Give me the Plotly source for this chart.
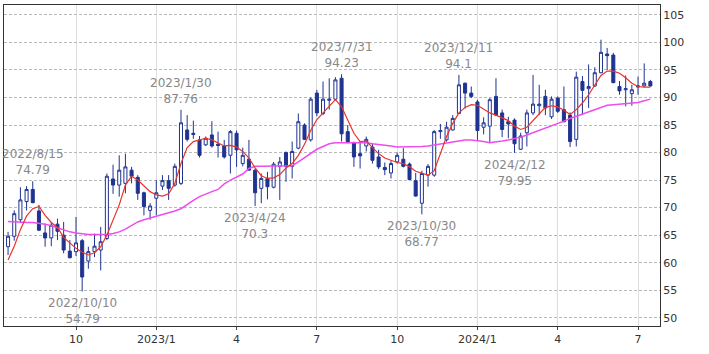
import plotly.graph_objects as go
import pandas as pd

# ---- data (weekly candles, first week 2022-07-18) ----
open_ = [62.9, 64.8, 67.8, 71.1, 73.3, 69.4, 65.4, 64.5, 67.0, 65.0,
         62.1, 62.0, 64.0, 60.3, 62.0, 62.3, 64.4, 75.2, 74.1, 74.4,
         76.8, 75.5, 72.7, 69.5, 71.7, 73.9, 74.9, 74.1, 74.4, 84.1,
         83.5, 82.3, 81.4, 83.2, 81.5, 81.2, 79.5, 83.5, 78.0, 78.8,
         76.8, 73.5, 75.3, 73.7, 77.5, 80.0, 77.5, 80.8, 85.0, 82.3,
         90.8, 87.1, 89.5, 89.7, 93.5, 83.8, 81.8, 79.8, 81.2, 81.0,
         79.2, 77.3, 76.3, 78.3, 78.8, 77.9, 74.9, 70.8, 75.9, 75.9,
         83.8, 82.3, 84.1, 87.1, 92.6, 90.8, 89.2, 84.6, 84.8, 90.2,
         87.2, 85.6, 85.9, 80.6, 83.6, 87.2, 88.5, 90.2, 86.5, 89.9,
         87.8, 86.8, 82.4, 92.9, 91.6, 92.1, 94.5, 97.9, 97.7, 92.0,
         91.4, 90.7, 91.9, 92.1, 92.9]
high = [65.6, 69.5, 73.7, 73.9, 74.79, 70.5, 67.1, 67.4, 68.0, 67.4,
        64.1, 68.3, 64.3, 62.9, 65.3, 66.5, 76.2, 77.8, 79.5, 79.8,
        77.4, 75.9, 72.9, 70.8, 75.0, 75.9, 75.9, 78.0, 87.76, 86.8,
        85.8, 83.0, 82.9, 85.7, 83.8, 82.3, 84.1, 84.0, 80.9, 82.3,
        77.1, 76.2, 76.5, 78.3, 79.2, 80.2, 82.0, 87.1, 85.3, 90.0,
        91.4, 92.9, 93.5, 93.7, 94.23, 85.0, 82.0, 82.0, 82.9, 81.7,
        80.5, 78.2, 78.6, 80.0, 80.8, 78.2, 76.3, 76.7, 77.9, 84.1,
        85.2, 85.6, 86.8, 94.1, 92.7, 92.0, 89.6, 86.4, 89.9, 93.5,
        87.8, 86.5, 86.2, 83.6, 87.8, 94.1, 92.3, 91.4, 90.2, 90.2,
        92.0, 87.3, 94.7, 93.9, 96.0, 95.5, 100.5, 99.0, 98.1, 93.0,
        94.0, 92.3, 93.8, 96.2, 93.2]
low = [61.4, 64.0, 67.2, 69.5, 70.8, 65.8, 62.9, 63.0, 64.1, 61.7,
       60.8, 61.2, 54.79, 58.9, 61.0, 58.6, 64.1, 72.5, 72.0, 72.6,
       74.4, 71.4, 68.6, 67.8, 68.6, 73.2, 71.4, 73.8, 74.1, 82.0,
       82.5, 79.1, 81.2, 80.9, 79.1, 78.9, 76.2, 77.4, 77.5, 76.8,
       70.3, 70.8, 71.5, 73.5, 71.4, 74.7, 75.3, 80.6, 82.3, 82.0,
       86.6, 86.8, 87.8, 89.5, 82.0, 81.7, 77.4, 77.1, 80.2, 78.0,
       77.0, 75.9, 75.3, 78.0, 77.3, 75.0, 72.0, 68.77, 73.8, 75.6,
       82.5, 82.0, 84.0, 87.0, 88.0, 89.9, 82.3, 83.3, 81.8, 86.6,
       82.8, 82.6, 79.95, 80.5, 81.1, 86.8, 86.8, 86.8, 86.1, 87.2,
       85.5, 81.0, 81.1, 86.8, 88.1, 91.9, 94.4, 95.0, 92.6, 90.5,
       88.4, 88.5, 90.5, 91.9, 92.0]
close = [64.8, 68.9, 71.4, 73.3, 70.9, 65.9, 64.5, 66.8, 65.7, 62.3,
         60.9, 63.6, 57.4, 62.0, 63.0, 63.8, 75.7, 74.1, 76.8, 77.4,
         75.7, 72.6, 70.2, 70.3, 72.7, 74.9, 73.5, 77.5, 85.4, 82.4,
         83.3, 79.5, 82.6, 81.2, 81.3, 79.2, 83.8, 80.5, 79.5, 76.8,
         72.7, 75.3, 73.8, 77.9, 78.3, 77.5, 80.2, 85.6, 82.4, 89.7,
         87.2, 89.7, 89.7, 93.2, 83.4, 81.8, 79.2, 79.4, 82.4, 78.6,
         77.4, 76.9, 78.0, 79.5, 77.5, 75.1, 72.1, 76.2, 77.5, 83.8,
         84.0, 84.6, 86.2, 92.3, 90.8, 90.2, 84.0, 85.4, 89.6, 86.8,
         84.2, 85.2, 81.6, 83.0, 87.2, 88.8, 88.8, 88.1, 89.7, 87.5,
         85.6, 82.0, 93.7, 91.3, 92.0, 94.5, 98.2, 97.6, 92.7, 91.2,
         91.6, 91.4, 92.1, 92.6, 92.1]
ma_short = [60.5, 63.0, 66.0, 68.5, 69.8, 70.2, 68.6, 67.3, 66.4, 64.6,
            63.6, 62.6, 61.9, 61.4, 61.8, 62.9, 65.0, 67.8, 70.5, 74.1,
            75.7, 75.0, 73.9, 72.9, 72.3, 72.1, 72.5, 74.4, 78.0, 80.9,
            82.0, 82.3, 82.6, 82.3, 81.8, 81.2, 81.3, 81.0, 80.2, 79.0,
            77.2, 75.8, 75.3, 75.4, 76.0, 77.2, 78.0, 79.5, 81.5, 84.0,
            86.0, 87.2, 88.5, 89.6, 88.3, 85.8, 83.5, 82.0, 82.1, 80.9,
            79.8, 79.0, 78.6, 78.2, 78.0, 77.4, 76.6, 76.2, 75.9, 76.7,
            79.8, 82.9, 85.3, 87.2, 88.2, 88.7, 88.6, 87.9, 87.2, 86.8,
            86.3, 85.8, 84.8, 84.2, 84.6, 85.8, 87.0, 88.2, 88.5, 88.3,
            87.7, 86.9, 87.8, 89.0, 90.5, 92.2, 94.0, 94.8, 94.8, 94.4,
            93.6, 92.6, 92.0, 91.9, 91.9]
ma_long = [67.5, 67.4, 67.4, 67.3, 67.3, 67.2, 67.0, 66.7, 66.3, 65.9,
           65.6, 65.4, 65.2, 65.1, 65.1, 65.1, 65.1, 65.3, 65.6, 66.1,
           66.7, 67.4, 67.8, 68.1, 68.5, 68.8, 69.1, 69.4, 69.8, 70.6,
           71.3, 72.0, 72.5, 72.9, 73.3, 74.3, 75.0, 75.5, 76.1, 77.1,
           77.5, 77.5, 77.5, 77.5, 77.5, 77.6, 77.6, 78.3, 79.1, 79.9,
           80.6, 81.1, 81.6, 81.8, 81.8, 81.9, 81.9, 81.9, 81.8, 81.6,
           81.5, 81.3, 81.2, 81.0, 81.0, 81.0, 81.0, 81.1, 81.2, 81.4,
           81.6, 81.8, 82.0, 82.2, 82.3, 82.3, 82.2, 82.0, 81.8, 81.9,
           82.1, 82.3, 82.5, 82.8, 83.2, 83.6, 84.0, 84.4, 84.8, 85.3,
           85.7, 86.2, 86.6, 87.0, 87.4, 87.8, 88.2, 88.6, 88.7, 88.8,
           88.8, 88.9, 89.1, 89.4, 89.7]

tick_dates = ['2022-10-03', '2023-01-02', '2023-04-03', '2023-07-03',
              '2023-10-02', '2024-01-01', '2024-04-01', '2024-07-01']
tick_labels = ['10', '2023/1', '4', '7', '10', '2024/1', '4', '7']

ann_dates = ['2022-08-15', '2022-10-10', '2023-01-30', '2023-04-24',
             '2023-07-31', '2023-10-30', '2023-12-11', '2024-02-12']
ann_values = [74.79, 54.79, 87.76, 70.3, 94.23, 68.77, 94.1, 79.95]
ann_kind = ['high', 'low', 'high', 'low', 'high', 'low', 'high', 'low']

# ---- figure ----
NAVY = '#1f3390'
FONT = 'DejaVu Sans'
start = pd.Timestamp('2022-07-18')
dates = pd.date_range(start, periods=len(close), freq='7D')

fig = go.Figure()
fig.add_trace(go.Candlestick(
    x=dates, open=open_, high=high, low=low, close=close,
    increasing=dict(line=dict(color=NAVY, width=1), fillcolor='white'),
    decreasing=dict(line=dict(color=NAVY, width=1), fillcolor=NAVY),
    whiskerwidth=0, showlegend=False, hoverinfo='skip'))
fig.add_trace(go.Scatter(x=dates, y=ma_long, mode='lines',
                         line=dict(color='#ee4cee', width=1.5),
                         showlegend=False, hoverinfo='skip'))
fig.add_trace(go.Scatter(x=dates, y=ma_short, mode='lines',
                         line=dict(color='#e8342a', width=1.2),
                         showlegend=False, hoverinfo='skip'))

for d, v, k in zip(ann_dates, ann_values, ann_kind):
    ts = pd.Timestamp(d)
    txt = f"{ts.year}/{ts.month}/{ts.day}<br>{v:g}"
    ys = 19 if k == 'high' else -20
    fig.add_annotation(x=ts, y=v, text=txt, showarrow=False,
                       xanchor='center', yanchor='middle', yshift=ys,
                       font=dict(family=FONT, size=12, color='#888888'))

fig.update_layout(
    width=709, height=354,
    margin=dict(l=4, r=49, t=5, b=28),
    paper_bgcolor='white', plot_bgcolor='white',
    showlegend=False,
    font=dict(family=FONT, size=11, color='#333333'),
)
fig.update_xaxes(
    type='date',
    range=[start - pd.Timedelta(days=4.6), start + pd.Timedelta(days=738.9)],
    tickvals=tick_dates, ticktext=tick_labels,
    showgrid=True, gridcolor='#dddddd', gridwidth=1,
    ticks='outside', ticklen=3, tickcolor='#444444',
    showline=True, linecolor='#333333', linewidth=1, mirror=True,
    rangeslider=dict(visible=False),
    tickfont=dict(family=FONT, size=11, color='#333333'),
)
fig.update_yaxes(
    side='right', range=[48.5, 106.8], tick0=50, dtick=5,
    showgrid=True, gridcolor='#b8b8b8', gridwidth=1, griddash='3px,2px',
    showline=True, linecolor='#333333', linewidth=1, mirror=True,
    ticks='', zeroline=False,
    tickfont=dict(family=FONT, size=11, color='#333333'),
)

fig.write_html("out.html")
